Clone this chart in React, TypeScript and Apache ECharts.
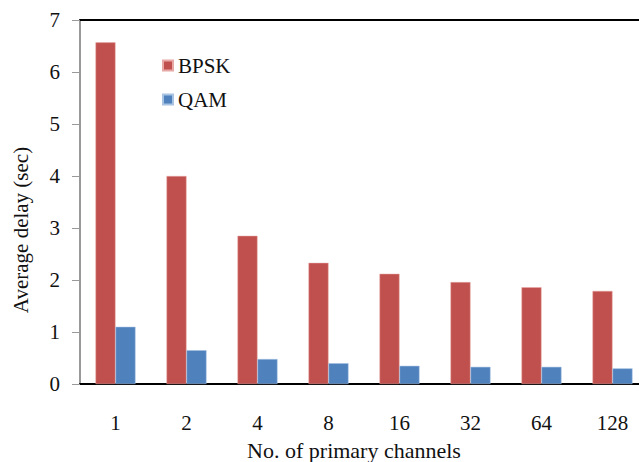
import React, { useEffect, useRef } from "react";
import * as echarts from "echarts";

const categories = ["1", "2", "4", "8", "16", "32", "64", "128"];
const bpsk = [6.57, 4.0, 2.85, 2.33, 2.12, 1.96, 1.86, 1.79];
const qam = [1.1, 0.65, 0.48, 0.4, 0.35, 0.33, 0.33, 0.3];
const yTicks = [0, 1, 2, 3, 4, 5, 6, 7];

const FONT = "Liberation Serif";

export default function App() {
  const ref = useRef<HTMLDivElement>(null);
  useEffect(() => {
    if (!ref.current) return;
    const chart = echarts.init(ref.current, null, { renderer: "svg" });
    chart.setOption({
      animation: false,
      backgroundColor: "#ffffff",
      textStyle: { fontFamily: FONT },
      legend: {
        orient: "vertical",
        left: 157,
        top: 50,
        itemWidth: 10,
        itemHeight: 10,
        itemGap: 13,
        icon: "rect",
        textStyle: { fontFamily: FONT, fontSize: 21, color: "#111" },
        data: ["BPSK", "QAM"],
      },
      graphic: [
        {
          type: "text",
          x: 21,
          y: 230,
          rotation: Math.PI / 2,
          style: {
            text: "Average delay (sec)",
            font: `21px '${FONT}'`,
            fill: "#111",
            align: "center",
            verticalAlign: "middle",
          },
        },
      ],
      grid: {
        left: 80,
        right: -9,
        top: 20,
        bottom: 78,
        containLabel: false,
        outerBoundsMode: "none",
      },
      xAxis: [
        {
          type: "category",
          data: categories,
          name: "No. of primary channels",
          nameLocation: "middle",
          nameGap: 55,
          nameTextStyle: { fontFamily: FONT, fontSize: 22, color: "#111", padding: [0, 20, 0, 0] },
          axisLine: { lineStyle: { color: "#000", width: 2 } },
          axisTick: { show: false },
          axisLabel: { fontFamily: FONT, fontSize: 21, color: "#111", margin: 28 },
        },
        {
          type: "category",
          data: categories,
          position: "top",
          axisLine: { show: true, lineStyle: { color: "#000", width: 2 } },
          axisTick: { show: false },
          axisLabel: { show: false },
        },
      ],
      yAxis: {
        type: "value",
        min: yTicks[0],
        max: yTicks[yTicks.length - 1],
        interval: 1,
        axisLine: { show: true, lineStyle: { color: "#999", width: 2 } },
        axisTick: { show: true, length: 8, lineStyle: { color: "#999" } },
        axisLabel: { fontFamily: FONT, fontSize: 21, color: "#111", margin: 20 },
        splitLine: { show: false },
      },
      series: [
        {
          name: "BPSK",
          type: "bar",
          data: bpsk,
          barWidth: 20,
          barGap: "0%",
          itemStyle: { color: "#C0504D", borderColor: "#E8A8A6", borderWidth: 0.5 },
        },
        {
          name: "QAM",
          type: "bar",
          data: qam,
          barWidth: 20,
          itemStyle: { color: "#4F81BD", borderColor: "#A9C3E3", borderWidth: 0.5 },
        },
      ],
    });
    return () => chart.dispose();
  }, []);
  return (
    <div
      ref={ref}
      style={{ position: "absolute", left: 0, top: 0, width: 639, height: 462 }}
    />
  );
}
